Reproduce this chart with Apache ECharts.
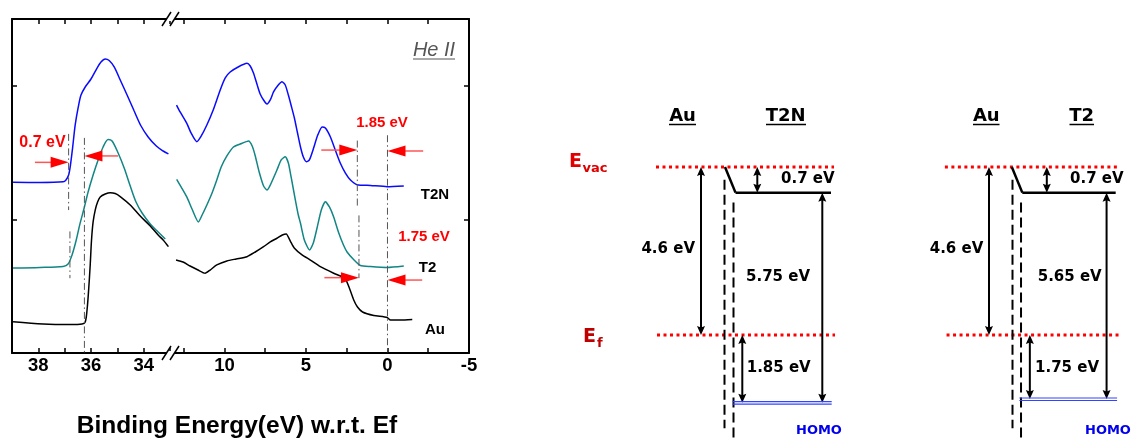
<!DOCTYPE html>
<html><head><meta charset="utf-8">
<script src="https://cdn.jsdelivr.net/npm/echarts@6/dist/echarts.min.js"></script>
<style>html,body{margin:0;padding:0;background:#fff}#c{width:1135px;height:441px}</style>
</head><body><div id="c"></div>
<script>
// ===================== DATA =====================
// labelled ticks of the broken binding-energy axis
const coreTickLabels = [38, 36, 34];
const valenceTickLabels = [10, 5, 0, -5];
const seriesNames = ['T2N', 'T2', 'Au'];

// secondary-electron cutoff region (binding energy, intensity)
const t2nCore = [[38.96,12.78],[37.94,12.76],[37.06,12.81],[36.95,12.95],[36.85,13.32],[36.78,14.07],[36.70,15.34],[36.60,17.07],[36.49,18.34],[36.38,19.31],[36.22,19.91],[36.00,20.51],[35.77,21.33],[35.62,21.78],[35.46,22.01],[35.31,21.89],[35.12,21.41],[34.89,20.43],[34.63,19.31],[34.36,18.11],[34.10,16.99],[33.83,16.17],[33.52,15.49],[33.26,15.12],[33.06,14.90]];
const t2Core = [[38.96,6.36],[37.94,6.40],[37.06,6.48],[36.87,6.66],[36.72,7.34],[36.57,8.38],[36.42,9.66],[36.26,10.85],[36.11,12.05],[35.92,13.32],[35.73,14.45],[35.54,15.42],[35.35,15.98],[35.20,15.87],[34.97,14.97],[34.74,13.85],[34.51,12.50],[34.29,11.30],[34.06,10.48],[33.75,9.66],[33.45,9.06],[33.18,8.53]];
const auCore = [[38.96,2.34],[37.82,2.17],[36.79,2.13],[36.34,2.17],[36.22,2.32],[36.15,3.22],[36.09,4.72],[36.03,6.59],[35.98,8.46],[35.92,9.81],[35.84,10.70],[35.75,11.30],[35.65,11.68],[35.46,11.90],[35.27,12.00],[35.08,11.94],[34.89,11.71],[34.51,11.08],[34.13,10.25],[33.75,9.51],[33.45,8.83],[33.26,8.46],[33.06,7.96]];

// valence band region
const t2nValence = [[12.94,18.56],[12.72,18.04],[12.31,17.19],[12.05,16.47],[11.70,15.82],[11.43,16.24],[11.08,17.07],[10.69,18.19],[10.26,19.69],[9.96,20.58],[9.65,21.03],[9.16,21.41],[8.62,21.68],[8.42,21.48],[8.22,20.96],[7.99,20.06],[7.81,19.39],[7.56,18.86],[7.39,18.64],[7.19,18.94],[6.99,19.54],[6.70,20.06],[6.47,20.31],[6.27,20.06],[6.08,19.31],[5.90,18.49],[5.71,17.59],[5.53,16.54],[5.34,15.44],[5.16,14.67],[4.97,14.32],[4.79,14.45],[4.53,15.34],[4.30,16.24],[4.01,16.92],[3.81,16.84],[3.50,16.17],[3.20,15.19],[2.89,14.20],[2.58,13.47],[2.27,12.95],[1.86,12.60],[1.04,12.54],[0.02,12.45],[-1.00,12.50]];
const t2Valence = [[12.93,12.99],[12.66,12.43],[12.31,11.68],[11.99,10.78],[11.60,9.81],[11.37,10.33],[11.08,11.08],[10.76,11.98],[10.47,12.95],[10.20,13.92],[9.85,14.75],[9.45,15.42],[9.04,15.64],[8.52,15.87],[8.30,15.49],[8.11,14.75],[7.87,13.55],[7.60,12.50],[7.39,12.20],[7.19,12.57],[6.78,13.70],[6.52,14.45],[6.27,14.69],[6.08,14.22],[5.90,13.10],[5.65,11.45],[5.47,10.33],[5.34,9.73],[5.10,8.46],[4.78,7.71],[4.55,8.23],[4.32,9.36],[4.06,10.70],[3.81,11.32],[3.56,10.93],[3.30,10.18],[3.01,9.06],[2.70,8.08],[2.48,7.56],[2.05,6.96],[1.66,6.55],[1.04,6.47],[0.02,6.40],[-1.00,6.51]];
const auValence = [[12.97,6.96],[12.54,6.81],[12.11,6.51],[11.62,6.21],[11.19,5.97],[10.88,6.21],[10.47,6.59],[9.85,6.89],[9.28,7.04],[8.62,7.21],[8.11,7.56],[7.60,7.96],[7.19,8.31],[6.78,8.59],[6.45,8.83],[6.21,8.91],[5.96,8.38],[5.72,7.86],[5.24,7.34],[4.73,6.96],[4.12,6.46],[3.30,5.97],[2.89,5.76],[2.58,5.54],[2.34,4.87],[2.07,3.97],[1.84,3.44],[1.53,3.07],[0.84,2.81],[0.02,2.66],[-0.18,2.47],[-0.80,2.47],[-1.52,2.51]];

// cutoff / onset energies marked in the spectra
const cutoffT2N = 36.85, cutoffT2 = 36.80, cutoffAu = 36.25;
const onsetT2N = 1.85, onsetT2 = 1.75, fermiEdge = 0;
const shiftLabels = ['0.7 eV', '1.85 eV', '1.75 eV'];

// energy level diagrams (eV)
const moleculeNames = ['T2N', 'T2'];
const auWorkFunction = 4.6;
const vacuumShift = [0.7, 0.7];
const ionizationEnergy = [5.75, 5.65];
const holeBarrier = [1.85, 1.75];

// ===================== RENDERING =====================
const FONT_A = '"Liberation Sans", Arial, sans-serif';
const FONT_V = '"DejaVu Sans", Verdana, sans-serif';

function head(tip, from, len, hw, notch, color) {
  const dx = tip[0] - from[0], dy = tip[1] - from[1];
  const L = Math.hypot(dx, dy) || 1, ux = dx / L, uy = dy / L, nx = -uy, ny = ux;
  const bx = tip[0] - ux * len, by = tip[1] - uy * len;
  return { type: 'polygon', shape: { points: [tip, [bx + nx * hw, by + ny * hw], [bx + ux * notch, by + uy * notch], [bx - nx * hw, by - ny * hw]] }, style: { fill: color } };
}
function shrink(a, b, d) {
  const dx = b[0] - a[0], dy = b[1] - a[1], L = Math.hypot(dx, dy) || 1;
  return [a[0] + dx / L * d, a[1] + dy / L * d];
}
function ln(a, b, style) { return { type: 'line', shape: { x1: a[0], y1: a[1], x2: b[0], y2: b[1] }, style: style }; }

// kinds: 0 dash-dot guide, 1 red arrow, 2 double black arrow, 3 solid, 4 dashed, 5 red dotted level, 6 HOMO
function renderSeg(params, api) {
  const p1 = api.coord([api.value(0), api.value(1)]);
  const p2 = api.coord([api.value(2), api.value(3)]);
  const k = api.value(4);
  const ch = [];
  if (k === 0) ch.push(ln(p1, p2, { stroke: '#555', lineWidth: 1, lineDash: [7, 3, 1.5, 3] }));
  else if (k === 1) { ch.push(ln(p1, shrink(p2, p1, 9), { stroke: '#ff5555', lineWidth: 1.5 })); ch.push(head(p2, p1, 18, 5.5, 0, '#ff0000')); }
  else if (k === 2) { ch.push(ln(shrink(p1, p2, 5), shrink(p2, p1, 5), { stroke: '#000', lineWidth: 2 })); ch.push(head(p1, p2, 9, 4, 1.5, '#000')); ch.push(head(p2, p1, 9, 4, 1.5, '#000')); }
  else if (k === 3) ch.push(ln(p1, p2, { stroke: '#000', lineWidth: 2.5 }));
  else if (k === 4) ch.push(ln(p1, p2, { stroke: '#000', lineWidth: 2, lineDash: [10, 5] }));
  else if (k === 5) ch.push(ln(p1, p2, { stroke: '#ff0000', lineWidth: 3, lineDash: [3, 3.5] }));
  else if (k === 6) {
    ch.push(ln([p1[0], p1[1] - 1], [p2[0], p2[1] - 1], { stroke: '#3344ff', lineWidth: 1.2 }));
    ch.push(ln([p1[0], p1[1] + 1.5], [p2[0], p2[1] + 1.5], { stroke: '#3344ff', lineWidth: 1.2 }));
  }
  return { type: 'group', children: ch };
}

// annotation segments in spectra (layout of guide extents in intensity units)
const coreSegs = [
  [cutoffT2N, 16.4, cutoffT2N, 10.7, 0],
  [cutoffAu, 16.1, cutoffAu, 0, 0],
  [cutoffT2, 9.1, cutoffT2, 5.6, 0],
  [38.13, 14.27, cutoffT2N, 14.27, 1],
  [34.97, 14.75, cutoffAu, 14.75, 1]
];
const valSegs = [
  [onsetT2N, 15.9, onsetT2N, 10.9, 0],
  [fermiEdge, 16.3, fermiEdge, 0, 0],
  [onsetT2, 10.3, onsetT2, 5.6, 0],
  [4.06, 15.19, onsetT2N, 15.19, 1],
  [-2.19, 15.12, fermiEdge, 15.12, 1],
  [3.87, 5.64, onsetT2, 5.64, 1],
  [-2.13, 5.46, fermiEdge, 5.46, 1]
];

// diagram layout (horizontal positions inside each diagram box)
const diagLayout = [
  { vac: [6, 184], ef: [7, 185], au: 51, d1: 74.5, d2: 83.5, s0: 75, s1: 85.5, lvEnd: 181, dipX: 107.3, ionX: 172.3, holeX: 92.3, homo: [82.7, 181.7] },
  { vac: [6, 184.3], ef: [7.7, 185], au: 51, d1: 75, d2: 83.7, s0: 74.3, s1: 85, lvEnd: 180.3, dipX: 110, ionX: 171, holeX: 92.7, homo: [82, 181.7] }
];
function diagSegs(i) {
  const L = diagLayout[i], W = auWorkFunction, dip = vacuumShift[i];
  const homo = W + holeBarrier[i], homo2 = dip + ionizationEnergy[i];
  return [
    [L.vac[0], 0, L.vac[1], 0, 5],
    [L.ef[0], W, L.ef[1], W, 5],
    [L.au, 0, L.au, W, 2],
    [L.d1, 0.35, L.d1, 7.15, 4],
    [L.d2, dip + 0.27, L.d2, 7.45, 4],
    [L.s0, 0, L.s1, dip, 3],
    [L.s1, dip, L.lvEnd, dip, 3],
    [L.dipX, 0, L.dipX, dip, 2],
    [L.ionX, dip, L.ionX, homo2, 2],
    [L.holeX, W, L.holeX, homo, 2],
    [L.homo[0], homo, L.homo[1], homo, 6]
  ];
}

const axisLineStyle = { color: '#000', width: 2 };
function xAx(grid, min, max, interval, pos, labels) {
  return {
    type: 'value', gridIndex: grid, min: min, max: max, interval: interval, inverse: true, position: pos,
    axisLine: { show: true, onZero: false, lineStyle: axisLineStyle },
    axisTick: { show: true, inside: true, length: 5, lineStyle: { color: '#000', width: 1.5 } },
    axisLabel: labels ? { show: true, margin: 3, color: '#000', fontSize: 18.5, fontWeight: 'bold', fontFamily: FONT_A,
      formatter: v => labels.includes(v) ? String(v) : '' } : { show: false },
    splitLine: { show: false }
  };
}
function yAx(grid, pos) {
  return {
    type: 'value', gridIndex: grid, min: 0, max: 25, interval: 10, position: pos,
    axisLine: { show: true, onZero: false, lineStyle: axisLineStyle },
    axisTick: { show: true, inside: true, length: 5, lineStyle: { color: '#000', width: 1.5 } },
    axisLabel: { show: false }, splitLine: { show: false }
  };
}
const hiddenX = g => ({ type: 'value', gridIndex: g, min: 0, max: 200, show: false });
const hiddenY = g => ({ type: 'value', gridIndex: g, min: -0.15, max: 7.5, inverse: true, show: false });

const colors = ['#0a0aff', '#128585', '#000000'];
function curve(name, data, xi, yi, color, smooth) {
  return { name: name, type: 'line', xAxisIndex: xi, yAxisIndex: yi, data: data, showSymbol: false, symbol: 'none',
    smooth: smooth, lineStyle: { width: 1.5, color: color }, itemStyle: { color: color }, z: 3 };
}
function segSeries(data, xi, yi) {
  return { type: 'custom', xAxisIndex: xi, yAxisIndex: yi, data: data, renderItem: renderSeg, clip: false, z: 5,
    encode: { x: [0, 2], y: [1, 3] } };
}

const option = {
  animation: false,
  backgroundColor: '#fff',
  grid: [
    { left: 12, top: 19, width: 158, height: 334 },
    { left: 170, top: 19, width: 299, height: 334 },
    { left: 650, top: 161.6, width: 200, height: 283 },
    { left: 939, top: 161.6, width: 200, height: 283 }
  ],
  xAxis: [
    xAx(0, 33, 39, 1, 'bottom', coreTickLabels),
    xAx(1, -5, 13.34, 2.5, 'bottom', valenceTickLabels),
    xAx(0, 33, 39, 1, 'top', null),
    xAx(1, -5, 13.34, 2.5, 'top', null),
    hiddenX(2), hiddenX(3)
  ],
  yAxis: [yAx(0, 'left'), yAx(1, 'right'), hiddenY(2), hiddenY(3)],
  series: [
    curve(seriesNames[0], t2nCore, 0, 0, colors[0], 0.3),
    curve(seriesNames[1], t2Core, 0, 0, colors[1], 0.3),
    curve(seriesNames[2], auCore, 0, 0, colors[2], 0.3),
    curve(seriesNames[0], t2nValence, 1, 1, colors[0], 0.2),
    curve(seriesNames[1], t2Valence, 1, 1, colors[1], 0.2),
    curve(seriesNames[2], auValence, 1, 1, colors[2], 0.2),
    segSeries(coreSegs, 0, 0),
    segSeries(valSegs, 1, 1),
    segSeries(diagSegs(0), 4, 2),
    segSeries(diagSegs(1), 5, 3)
  ]
};

const chart = echarts.init(document.getElementById('c'), null, { renderer: 'canvas' });
chart.setOption(option);

function txt(t, x, y, font, fill, align) {
  align = align || 'center';
  return { type: 'text', z: 120, style: { text: t, x: x, y: y, font: font, fill: fill,
    align: align, verticalAlign: 'middle', textAlign: align, textVerticalAlign: 'middle' } };
}
function hline(x1, x2, y, w, c) { return { type: 'line', z: 120, shape: { x1: x1, y1: y, x2: x2, y2: y }, style: { stroke: c || '#000', lineWidth: w } }; }

const g = [];
// axis break marks
[[33, 0], [33, 25]].forEach(v => {
  const p = chart.convertToPixel({ xAxisIndex: 0, yAxisIndex: 0 }, v);
  const cx = p[0] + 2, cy = p[1];
  g.push({ type: 'rect', z: 110, shape: { x: cx - 5, y: cy - 2, width: 8, height: 4 }, style: { fill: '#fff' } });
  g.push({ type: 'line', z: 111, shape: { x1: cx - 10, y1: cy + 7, x2: cx - 1, y2: cy - 7 }, style: { stroke: '#000', lineWidth: 1.5 } });
  g.push({ type: 'line', z: 111, shape: { x1: cx - 2, y1: cy + 7, x2: cx + 7, y2: cy - 7 }, style: { stroke: '#000', lineWidth: 1.5 } });
});
const redA = 'bold 16px ' + FONT_A, redB = 'bold 15px ' + FONT_A, lab = 'bold 15px ' + FONT_A;
g.push(txt(shiftLabels[0], 42.5, 143, redA, '#ff0000'));
g.push(txt(shiftLabels[1], 382, 122.7, redB, '#ff0000'));
g.push(txt(shiftLabels[2], 424, 236.7, redB, '#ff0000'));
g.push(txt(seriesNames[0], 435, 195, lab, '#000'));
g.push(txt(seriesNames[1], 427.5, 268, lab, '#000'));
g.push(txt(seriesNames[2], 435, 330, lab, '#000'));
g.push(txt('He II', 434, 50, 'italic 20px ' + FONT_A, '#555'));
g.push(hline(413, 455, 59, 1, '#555'));
g.push(txt('Binding Energy(eV) w.r.t. Ef', 237, 426, 'bold 24.5px ' + FONT_A, '#000'));

// diagram texts
const hdr = 'bold 18px ' + FONT_V, val = 'bold 15px ' + FONT_V;
const hdrPos = [{ au: 682.5, auU: [669, 696], mol: 785.7, molU: [766, 806] }, { au: 986.3, auU: [973, 999.5], mol: 1081.7, molU: [1069.5, 1094] }];
const txtPos = [{ wf: 695, dip: 781, ion: 746, hole: 746.7, homo: 796 }, { wf: 983.3, dip: 1070, ion: 1037.7, hole: 1035, homo: 1085 }];
for (let i = 0; i < 2; i++) {
  const H = hdrPos[i], T = txtPos[i];
  g.push(txt('Au', H.au, 116.5, hdr, '#000'));
  g.push(hline(H.auU[0], H.auU[1], 124.5, 1.5));
  g.push(txt(moleculeNames[i], H.mol, 116.5, hdr, '#000'));
  g.push(hline(H.molU[0], H.molU[1], 124.5, 1.5));
  g.push(txt(auWorkFunction + ' eV', T.wf, 249.3, val, '#000', 'right'));
  g.push(txt(vacuumShift[i] + ' eV', T.dip, 179.3, val, '#000', 'left'));
  g.push(txt(ionizationEnergy[i] + ' eV', T.ion, 277.3, val, '#000', 'left'));
  g.push(txt(holeBarrier[i] + ' eV', T.hole, 368.3, val, '#000', 'left'));
  g.push(txt('HOMO', T.homo, 431, 'bold 13px ' + FONT_V, '#0000ee', 'left'));
}
g.push(txt('E', 569, 161.7, 'bold 19px ' + FONT_V, '#e00000', 'left'));
g.push(txt('vac', 582.5, 168.5, 'bold 13px ' + FONT_V, '#e00000', 'left'));
g.push(txt('E', 583, 337, 'bold 19px ' + FONT_V, '#c00000', 'left'));
g.push(txt('f', 597, 344, 'bold 13px ' + FONT_V, '#c00000', 'left'));

chart.setOption({ graphic: g });
</script></body></html>
